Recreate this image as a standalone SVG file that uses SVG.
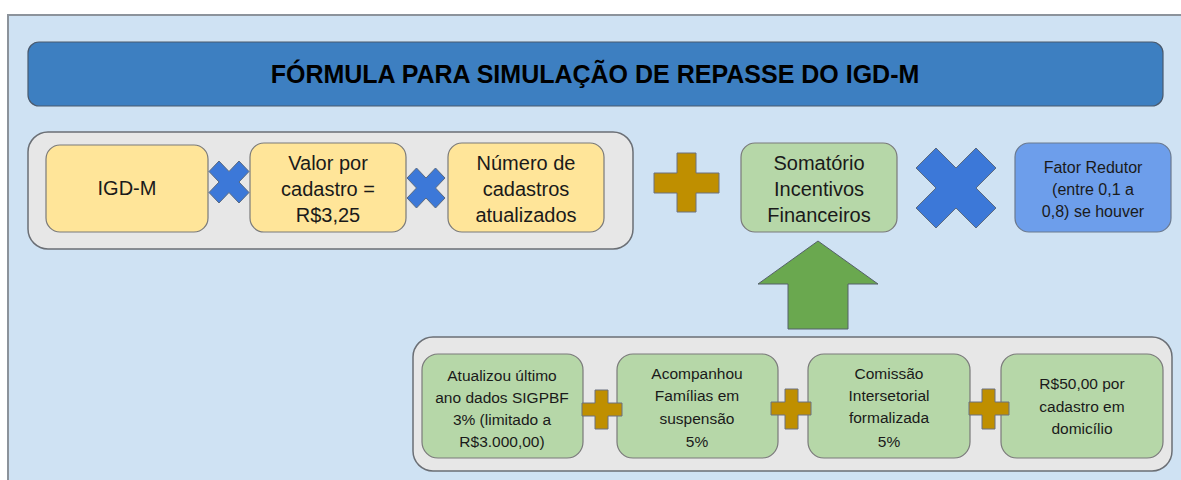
<svg xmlns="http://www.w3.org/2000/svg" width="1181" height="480" viewBox="0 0 1181 480">
<style>
text{font-family:"Liberation Sans",Arial,sans-serif;fill:#1a1a1a;text-anchor:middle}
.t20{font-size:20px}
.t16{font-size:16px}
.t15{font-size:15.5px}
.ttl{font-size:25px;font-weight:bold;fill:#000}
.cont{fill:#e7e7e7;stroke:#6b6f75;stroke-width:1.5}
.org{fill:#ffe599;stroke:#7a7a7a;stroke-width:1.2}
.grn{fill:#b6d7a8;stroke:#7a7a7a;stroke-width:1.2}
.blu{fill:#6d9eeb;stroke:#6b7a90;stroke-width:1.2}
.x{fill:#3c78d8;stroke:#5a6a80;stroke-width:1}
.p{fill:#bf8f00;stroke:#6a7080;stroke-width:1}
.arr{fill:#6aa84f;stroke:#55606a;stroke-width:1}
</style>
<rect x="0" y="0" width="1181" height="480" fill="#ffffff"/>
<rect x="8" y="15" width="1180" height="470" fill="#cfe2f3" stroke="#8c939b" stroke-width="2"/>

<g id="title">
<rect x="28" y="42" width="1135" height="64" rx="11" fill="#3d7fc1" stroke="#4a5a6e" stroke-width="1.2"/>
<text class="ttl" x="595" y="83">FÓRMULA PARA SIMULAÇÃO DE REPASSE DO IGD-M</text>
</g>

<g id="top-group">
<rect class="cont" x="28" y="132" width="605" height="117" rx="20"/>
</g>
<g id="igdm">
<rect class="org" x="46" y="145" width="162" height="87" rx="14"/>
<text class="t20" x="127" y="195">IGD-M</text>
</g>
<g id="valor">
<rect class="org" x="250" y="143" width="156" height="89" rx="14"/>
<text class="t20" x="328" y="170">Valor por</text>
<text class="t20" x="328" y="196">cadastro =</text>
<text class="t20" x="328" y="222">R$3,25</text>
</g>
<g id="numero">
<rect class="org" x="448" y="143" width="156" height="89" rx="14"/>
<text class="t20" x="526" y="170">Número de</text>
<text class="t20" x="526" y="196">cadastros</text>
<text class="t20" x="526" y="222">atualizados</text>
</g>
<g id="somatorio">
<rect class="grn" x="741" y="143" width="156" height="89" rx="14"/>
<text class="t20" x="819" y="170">Somatório</text>
<text class="t20" x="819" y="196">Incentivos</text>
<text class="t20" x="819" y="222">Financeiros</text>
</g>
<g id="fator">
<rect class="blu" x="1015" y="143" width="156" height="89" rx="14"/>
<text class="t16" x="1093" y="173">Fator Redutor</text>
<text class="t16" x="1093" y="195">(entre 0,1 a</text>
<text class="t16" x="1093" y="217">0,8) se houver</text>
</g>

<g id="bottom-group">
<rect class="cont" x="413" y="337" width="759" height="134" rx="20"/>
</g>
<g id="atualizou">
<rect class="grn" x="422" y="354" width="161" height="104" rx="16"/>
<text class="t15" x="502" y="381">Atualizou último</text>
<text class="t15" x="502" y="403">ano dados SIGPBF</text>
<text class="t15" x="502" y="425">3% (limitado a</text>
<text class="t15" x="502" y="447">R$3.000,00)</text>
</g>
<g id="acompanhou">
<rect class="grn" x="617" y="354" width="161" height="104" rx="16"/>
<text class="t15" x="697" y="379">Acompanhou</text>
<text class="t15" x="697" y="401">Famílias em</text>
<text class="t15" x="697" y="424">suspensão</text>
<text class="t15" x="697" y="447">5%</text>
</g>
<g id="comissao">
<rect class="grn" x="808" y="354" width="162" height="104" rx="16"/>
<text class="t15" x="889" y="379">Comissão</text>
<text class="t15" x="889" y="401">Intersetorial</text>
<text class="t15" x="889" y="423">formalizada</text>
<text class="t15" x="889" y="447">5%</text>
</g>
<g id="domicilio">
<rect class="grn" x="1001" y="354" width="162" height="104" rx="16"/>
<text class="t15" x="1082" y="389">R$50,00 por</text>
<text class="t15" x="1082" y="412">cadastro em</text>
<text class="t15" x="1082" y="434">domicílio</text>
</g>

<g id="connectors">
<polygon class="x" points="229,171.5 239,161 249,171.5 239,182 249,192.5 239,203 229,192.5 219,203 209,192.5 219,182 209,171.5 219,161"/>
<polygon class="x" points="426,178 435.5,168 445,178 435.5,188 445,198 435.5,208 426,198 416.5,208 407,198 416.5,188 407,178 416.5,168"/>
<polygon class="x" points="956,168 976,148 996,168 976,188 996,208 976,228 956,208 936,228 916,208 936,188 916,168 936,148"/>
<polygon class="p" points="677,153 696,153 696,173 719,173 719,193 696,193 696,212 677,212 677,193 654,193 654,173 677,173"/>
<polygon class="p" points="595,390 608,390 608,403 622,403 622,416 608,416 608,429 595,429 595,416 582,416 582,403 595,403"/>
<polygon class="p" points="785,389 798,389 798,402 811,402 811,415 798,415 798,429 785,429 785,415 771,415 771,402 785,402"/>
<polygon class="p" points="982,389 995,389 995,402 1009,402 1009,415 995,415 995,429 982,429 982,415 969,415 969,402 982,402"/>
<polygon class="arr" points="818,241 878,284 848,284 848,329 788,329 788,284 758,284"/>
</g>
</svg>
